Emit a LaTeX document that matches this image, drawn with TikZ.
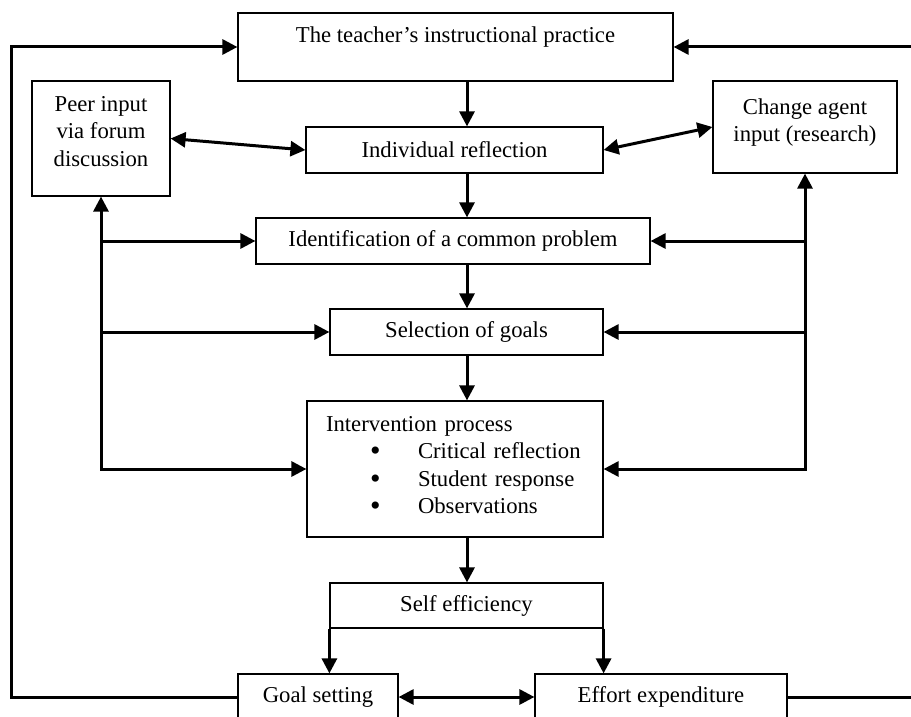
\documentclass[tikz,border=0pt]{standalone}
\usepackage{fontspec}
\setmainfont{Liberation Serif}
\usetikzlibrary{arrows.meta}

\begin{document}
\begin{tikzpicture}[x=1pt, y=-1pt,
	box/.style={draw, line width=1.2pt, inner sep=0pt, align=center},
	flow/.style={line width=3pt, -{Triangle[length=15pt,width=15pt]}},
	both/.style={line width=3pt, {Triangle[length=15pt,width=15pt]}-{Triangle[length=15pt,width=15pt]}}]

\def\width{911}
\def\height{717}
\def\bul{\makebox[92pt][l]{\hspace{44pt}\raisebox{-2pt}[0pt][0pt]{\fontsize{30}{30}\selectfont\textbullet}}}
\def\lift#1{\rule[-#1pt]{0pt}{1pt}}

\fontsize{22.7}{27.5}\selectfont
\path [use as bounding box] (0,0) rectangle (\width,\height);

% BOXES
\node [box, minimum width=435pt, text height=30pt, text depth=38pt] (teacher) at (455.5,47) {The teacher’s instructional practice};
\node [box, minimum width=138pt, minimum height=115pt] (peer) at (101,138.5) {Peer input\\via forum\\discussion\lift{15}};
\node [box, minimum width=184pt, minimum height=92pt] (change) at (805,127) {Change agent\\input (research)\lift{14}};
\node [box, minimum width=297pt, minimum height=46pt] (indiv) at (454.5,150) {Individual reflection};
\node [box, minimum width=394pt, minimum height=46pt] (ident) at (453,241) {Identification of a common problem};
\node [box, minimum width=273pt, minimum height=46pt] (goals) at (466.5,332) {Selection of goals};
\node [box, minimum width=296pt, minimum height=136pt, inner xsep=19pt, text width=258pt, align=left] (interv) at (455,469)
	{Intervention process\\\bul Critical reflection\\\bul Student response\\\bul Observations\lift{8}};
\node [box, minimum width=273pt, minimum height=45pt] (self) at (466.5,605.5) {Self efficiency};
\node [box, minimum width=160pt, minimum height=46pt] (goal) at (318,697) {Goal setting};
\node [box, minimum width=252pt, minimum height=46pt] (effort) at (661,697) {Effort expenditure};

% SPINE
\coordinate (spine) at (467,0);
\draw [flow] (teacher.south -| spine) -- (indiv.north -| spine);
\draw [flow] (indiv.south -| spine) -- (ident.north -| spine);
\draw [flow] (ident.south -| spine) -- (goals.north -| spine);
\draw [flow] (goals.south -| spine) -- (interv.north -| spine);
\draw [flow] (interv.south -| spine) -- (self.north -| spine);
\draw [flow] (self.south west) -- (self.south west |- goal.north);
\draw [flow] (self.south east) -- (self.south east |- effort.north);

% INPUTS
\draw [both] (peer.east) -- (indiv.west);
\draw [both] (indiv.east) -- (change.west);
\draw [both] (peer.south) |- (interv.west);
\draw [flow] (ident.west -| peer.south) -- (ident.west);
\draw [flow] (goals.west -| peer.south) -- (goals.west);
\draw [both] (change.south) |- (interv.east);
\draw [flow] (ident.east -| change.south) -- (ident.east);
\draw [flow] (goals.east -| change.south) -- (goals.east);

% LOOPS
\draw [both] (goal.east) -- (effort.west);
\draw [flow] (goal.west) -- ++(-226,0) |- (teacher.west);
\draw [flow] (effort.east) -- ++(130,0) |- (teacher.east);

\end{tikzpicture}
\end{document}
